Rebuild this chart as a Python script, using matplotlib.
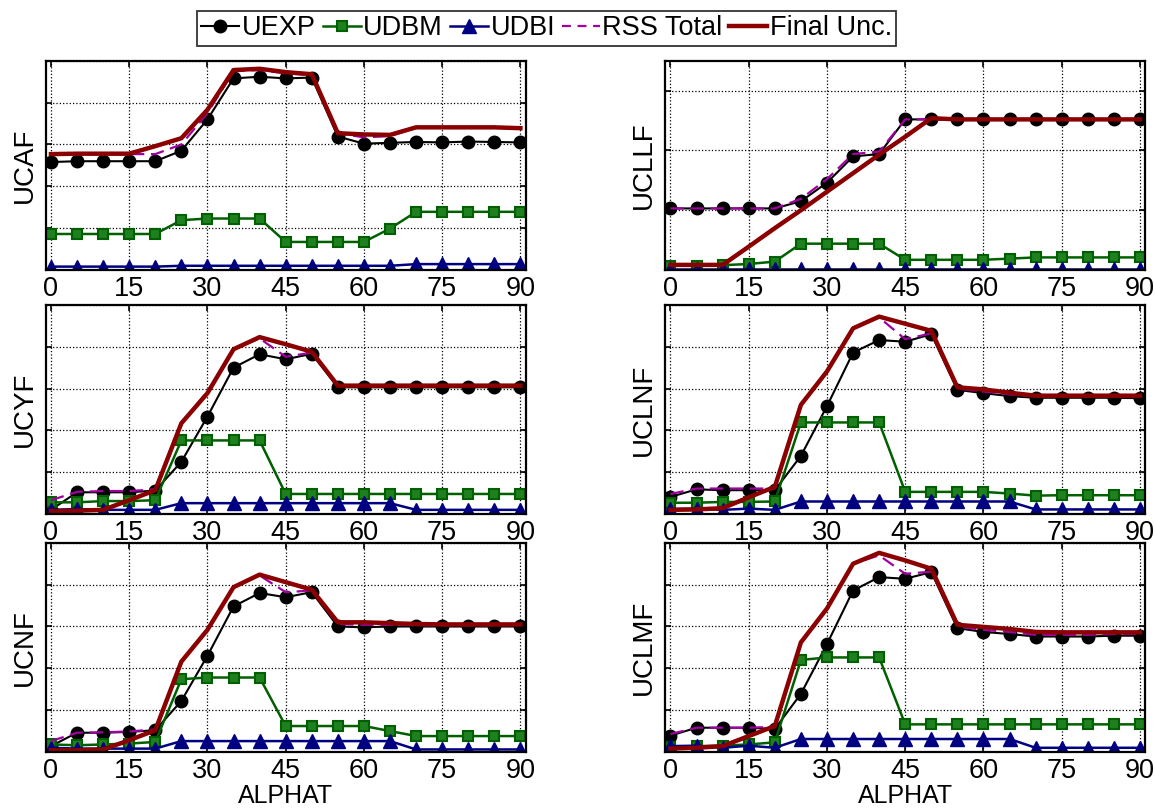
import matplotlib
matplotlib.use('Agg')
import matplotlib.pyplot as plt
from matplotlib.lines import Line2D

plt.rcParams['font.family'] = ['Liberation Sans', 'DejaVu Sans']

# x axis values (angle of attack)
alphat = [0, 5, 10, 15, 20, 25, 30, 35, 40, 45, 50, 55, 60, 65, 70, 75, 80, 85, 90]

# UCAF
ucaf_uexp = [2.58, 2.60, 2.60, 2.60, 2.60, 2.85, 3.60, 4.58, 4.62, 4.58, 4.60, 3.19, 3.02, 3.04, 3.06, 3.05, 3.07, 3.06, 3.05]
ucaf_udbm = [0.86, 0.86, 0.86, 0.86, 0.86, 1.19, 1.23, 1.23, 1.23, 0.67, 0.67, 0.67, 0.67, 0.99, 1.39, 1.39, 1.39, 1.39, 1.39]
ucaf_udbi = [0.08, 0.08, 0.08, 0.08, 0.08, 0.10, 0.10, 0.10, 0.10, 0.10, 0.10, 0.10, 0.10, 0.10, 0.14, 0.14, 0.14, 0.14, 0.14]
ucaf_rss = [2.77, 2.77, 2.77, 2.77, 2.77, 3.00, 3.75, 4.75, 4.78, 4.70, 4.66, 3.27, 3.17, 3.20, 3.40, 3.40, 3.40, 3.40, 3.40]
ucaf_final = [2.77, 2.78, 2.78, 2.78, 2.96, 3.15, 3.83, 4.78, 4.81, 4.73, 4.68, 3.27, 3.24, 3.23, 3.41, 3.41, 3.41, 3.41, 3.39]

# UCLLF
ucllf_uexp = [1.03, 1.03, 1.03, 1.03, 1.03, 1.15, 1.46, 1.90, 1.94, 2.52, 2.52, 2.52, 2.52, 2.52, 2.52, 2.52, 2.52, 2.52, 2.52]
ucllf_udbm = [0.07, 0.07, 0.08, 0.10, 0.14, 0.44, 0.44, 0.44, 0.44, 0.17, 0.17, 0.17, 0.17, 0.19, 0.21, 0.21, 0.21, 0.21, 0.21]
ucllf_udbi = [0.01, 0.01, 0.01, 0.01, 0.01, 0.01, 0.01, 0.01, 0.01, 0.01, 0.01, 0.01, 0.01, 0.01, 0.01, 0.01, 0.01, 0.01, 0.01]
ucllf_rss = [1.03, 1.03, 1.03, 1.03, 1.03, 1.19, 1.52, 1.94, 1.98, 2.52, 2.52, 2.52, 2.52, 2.52, 2.52, 2.52, 2.52, 2.52, 2.52]
ucllf_final = [0.085, 0.085, 0.085, 0.39, 0.70, 1.00, 1.31, 1.62, 1.93, 2.23, 2.54, 2.52, 2.52, 2.52, 2.52, 2.52, 2.52, 2.52, 2.52]

# UCYF
ucyf_uexp = [0.10, 0.52, 0.52, 0.52, 0.56, 1.25, 2.33, 3.50, 3.82, 3.70, 3.83, 3.03, 3.03, 3.03, 3.03, 3.03, 3.03, 3.03, 3.03]
ucyf_udbm = [0.28, 0.28, 0.31, 0.31, 0.33, 1.76, 1.76, 1.76, 1.76, 0.48, 0.48, 0.48, 0.48, 0.48, 0.48, 0.48, 0.48, 0.48, 0.48]
ucyf_udbi = [0.10, 0.12, 0.10, 0.10, 0.10, 0.26, 0.26, 0.26, 0.26, 0.26, 0.26, 0.26, 0.26, 0.26, 0.10, 0.10, 0.10, 0.10, 0.10]
ucyf_rss = [0.33, 0.53, 0.55, 0.55, 0.59, 2.17, 2.93, 3.94, 4.20, 3.76, 3.86, 3.07, 3.07, 3.07, 3.07, 3.07, 3.07, 3.07, 3.07]
ucyf_final = [0.07, 0.08, 0.10, 0.33, 0.57, 2.17, 2.89, 3.94, 4.23, 4.06, 3.88, 3.07, 3.07, 3.07, 3.07, 3.07, 3.07, 3.07, 3.07]

# UCLNF
uclnf_uexp = [0.41, 0.59, 0.57, 0.57, 0.57, 1.39, 2.58, 3.86, 4.16, 4.12, 4.30, 2.97, 2.89, 2.82, 2.78, 2.78, 2.78, 2.78, 2.77]
uclnf_udbm = [0.27, 0.27, 0.29, 0.29, 0.30, 2.19, 2.19, 2.19, 2.19, 0.53, 0.53, 0.53, 0.53, 0.49, 0.44, 0.45, 0.45, 0.45, 0.45]
uclnf_udbi = [0.12, 0.13, 0.10, 0.13, 0.10, 0.30, 0.30, 0.30, 0.30, 0.30, 0.30, 0.30, 0.30, 0.30, 0.11, 0.11, 0.11, 0.11, 0.11]
uclnf_rss = [0.48, 0.61, 0.61, 0.61, 0.61, 2.61, 3.41, 4.44, 4.70, 4.18, 4.32, 3.00, 2.93, 2.86, 2.81, 2.81, 2.81, 2.81, 2.80]
uclnf_final = [0.10, 0.11, 0.14, 0.40, 0.65, 2.61, 3.41, 4.44, 4.72, 4.55, 4.38, 3.03, 2.98, 2.90, 2.83, 2.83, 2.83, 2.83, 2.83]

# UCNF
ucnf_uexp = [0.14, 0.46, 0.46, 0.48, 0.52, 1.22, 2.30, 3.48, 3.80, 3.70, 3.82, 3.00, 2.98, 3.00, 3.00, 3.00, 3.00, 3.00, 3.00]
ucnf_udbm = [0.18, 0.16, 0.18, 0.20, 0.24, 1.74, 1.78, 1.78, 1.78, 0.62, 0.62, 0.62, 0.62, 0.50, 0.38, 0.38, 0.38, 0.38, 0.38]
ucnf_udbi = [0.10, 0.08, 0.08, 0.08, 0.08, 0.26, 0.26, 0.26, 0.26, 0.26, 0.26, 0.26, 0.26, 0.26, 0.06, 0.06, 0.06, 0.06, 0.06]
ucnf_rss = [0.26, 0.46, 0.47, 0.49, 0.54, 2.16, 2.92, 3.94, 4.22, 3.82, 3.86, 3.06, 3.04, 3.04, 3.03, 3.03, 3.03, 3.03, 3.03]
ucnf_final = [0.04, 0.04, 0.06, 0.28, 0.52, 2.16, 2.92, 3.94, 4.24, 4.06, 3.88, 3.10, 3.10, 3.08, 3.06, 3.05, 3.05, 3.05, 3.05]

# UCLMF
uclmf_uexp = [0.39, 0.58, 0.58, 0.58, 0.55, 1.39, 2.58, 3.86, 4.18, 4.14, 4.30, 2.96, 2.87, 2.82, 2.76, 2.76, 2.76, 2.78, 2.78]
uclmf_udbm = [0.11, 0.14, 0.15, 0.18, 0.23, 2.20, 2.26, 2.26, 2.26, 0.66, 0.66, 0.66, 0.66, 0.66, 0.66, 0.66, 0.66, 0.66, 0.66]
uclmf_udbi = [0.14, 0.15, 0.10, 0.15, 0.10, 0.31, 0.31, 0.31, 0.31, 0.31, 0.31, 0.31, 0.31, 0.31, 0.10, 0.10, 0.10, 0.10, 0.10]
uclmf_rss = [0.43, 0.58, 0.58, 0.58, 0.60, 2.62, 3.43, 4.50, 4.70, 4.26, 4.31, 3.00, 2.92, 2.87, 2.80, 2.80, 2.80, 2.82, 2.82]
uclmf_final = [0.08, 0.10, 0.14, 0.38, 0.62, 2.62, 3.43, 4.50, 4.76, 4.58, 4.38, 3.04, 2.99, 2.94, 2.87, 2.86, 2.86, 2.86, 2.86]

panels = [
    ('UCAF', ucaf_uexp, ucaf_udbm, ucaf_udbi, ucaf_rss, ucaf_final, 5),
    ('UCLLF', ucllf_uexp, ucllf_udbm, ucllf_udbi, ucllf_rss, ucllf_final, 3.5),
    ('UCYF', ucyf_uexp, ucyf_udbm, ucyf_udbi, ucyf_rss, ucyf_final, 5),
    ('UCLNF', uclnf_uexp, uclnf_udbm, uclnf_udbi, uclnf_rss, uclnf_final, 5),
    ('UCNF', ucnf_uexp, ucnf_udbm, ucnf_udbi, ucnf_rss, ucnf_final, 5),
    ('UCLMF', uclmf_uexp, uclmf_udbm, uclmf_udbi, uclmf_rss, uclmf_final, 5),
]

# axes boxes in figure fractions
lefts = [0.0396, 0.576]
bottoms = [0.6663, 0.3646, 0.0705]
width = 0.4155
height = 0.2585

c_exp = 'black'
c_dbm = '#006000'
c_dbm_face = '#1f801f'
c_dbi = '#000080'
c_rss = '#a000a0'
c_fin = '#8b0000'

fs = 19.5

fig = plt.figure(figsize=(11.55, 8.09), dpi=100)

for i, (name, uexp, udbm, udbi, rss, final, ytop) in enumerate(panels):
    row, col = i // 2, i % 2
    ax = fig.add_axes([lefts[col], bottoms[row], width, height])
    ax.plot(alphat, uexp, '-o', color=c_exp, lw=1.5, ms=9)
    ax.plot(alphat, udbm, '-s', color=c_dbm, lw=1.8, ms=7.5, mfc=c_dbm_face, mec=c_dbm, mew=1.5)
    ax.plot(alphat, udbi, '-^', color=c_dbi, lw=1.8, ms=10)
    ax.plot(alphat, rss, '--', color=c_rss, lw=1.6, dashes=(6, 3))
    ax.plot(alphat, final, '-', color=c_fin, lw=3.2)
    ax.set_xlim(-1, 91)
    ax.set_ylim(0, ytop)
    ax.set_xticks([0, 15, 30, 45, 60, 75, 90])
    ax.set_yticks(range(0, int(ytop) + 1))
    ax.set_yticklabels([])
    ax.grid(True, color='black', linestyle=':', linewidth=0.9)
    ax.tick_params(direction='in', top=True, right=True, length=4, width=1.2,
                   labelsize=fs, pad=4)
    for s in ax.spines.values():
        s.set_linewidth(1.6)
    ax.set_ylabel(name, fontsize=fs + 0.5, labelpad=2)
    if row == 2:
        ax.set_xlabel('ALPHAT', fontsize=18, labelpad=0)

handles = [
    Line2D([], [], color=c_exp, marker='o', lw=1.5, ms=9),
    Line2D([], [], color=c_dbm, marker='s', lw=1.8, ms=7.5, mfc=c_dbm_face, mec=c_dbm, mew=1.5),
    Line2D([], [], color=c_dbi, marker='^', lw=1.8, ms=10),
    Line2D([], [], color=c_rss, ls='--', lw=1.6, dashes=(4, 3)),
    Line2D([], [], color=c_fin, lw=3.2),
]
labels = ['UEXP', 'UDBM', 'UDBI', 'RSS Total', 'Final Unc.']
leg = fig.legend(handles, labels, loc='center', bbox_to_anchor=(0.4735, 0.9648), ncol=5,
                 fontsize=fs, frameon=True, fancybox=False, edgecolor='black',
                 handlelength=1.4, handletextpad=0.1, columnspacing=0.25,
                 borderpad=0.15, borderaxespad=0)
leg.get_frame().set_linewidth(1.3)

fig.savefig('out.png', dpi=100)
